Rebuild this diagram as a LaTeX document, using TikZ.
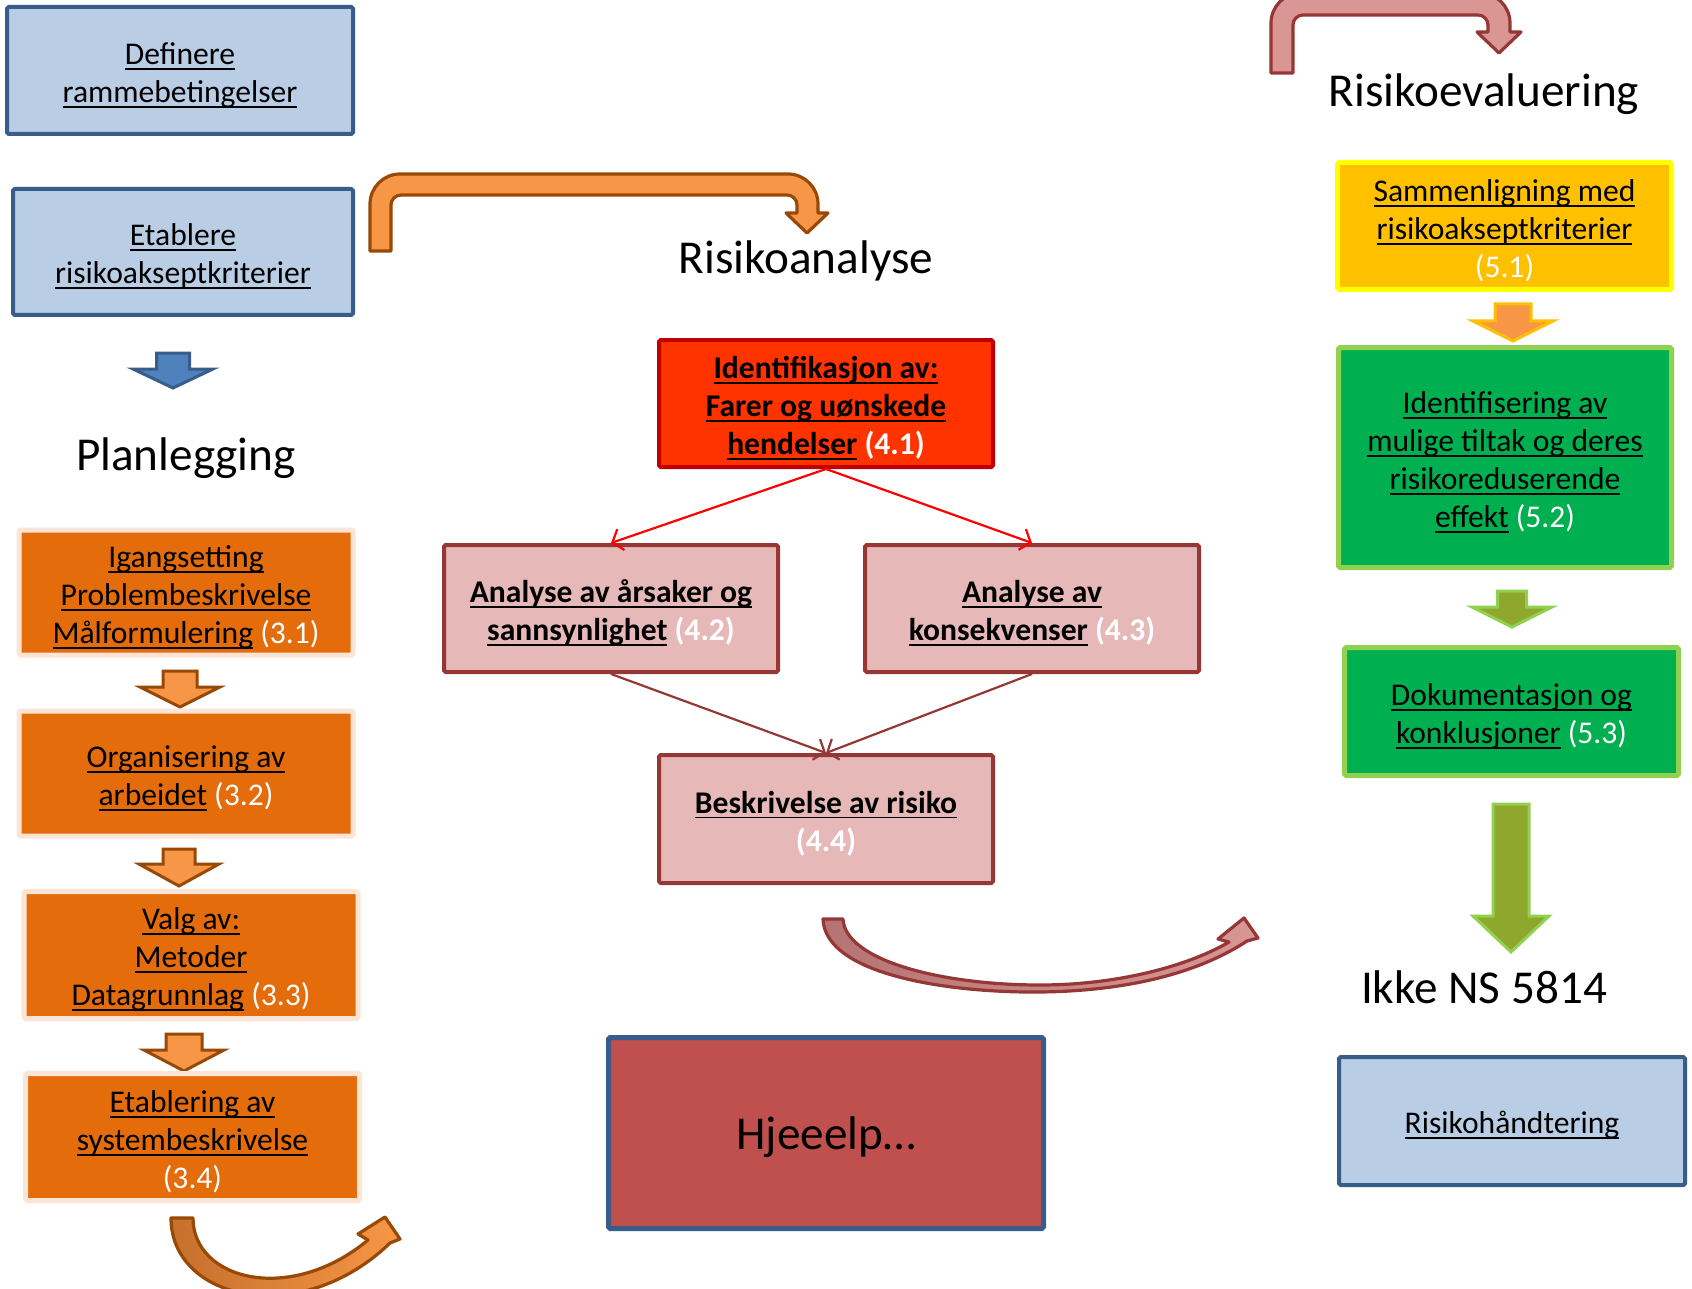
\documentclass[tikz,border=0pt]{standalone}
\usepackage{fontspec}
\setmainfont{Carlito}
\usetikzlibrary{arrows.meta}
\definecolor{bfill}{HTML}{B9CDE5}
\definecolor{bdraw}{HTML}{385D8A}
\definecolor{ofill}{HTML}{E46C0A}
\definecolor{opale}{HTML}{FCE4D6}
\definecolor{oarrow}{HTML}{F79646}
\definecolor{obrown}{HTML}{984807}
\definecolor{rfill}{HTML}{FF3300}
\definecolor{rdraw}{HTML}{C00000}
\definecolor{pfill}{HTML}{E6B9B8}
\definecolor{pdraw}{HTML}{953735}
\definecolor{yfill}{HTML}{FFC000}
\definecolor{ydraw}{HTML}{FFFF00}
\definecolor{gfill}{HTML}{00B050}
\definecolor{gdraw}{HTML}{92D050}
\definecolor{garrow}{HTML}{8EA72C}
\definecolor{hfill}{HTML}{C0504D}
\definecolor{barrow}{HTML}{4F81BD}
\definecolor{rarrowfill}{HTML}{D99694}
\definecolor{rtail}{HTML}{B57473}
\definecolor{otail}{HTML}{C5702C}
\newcommand\boxfont{\fontsize{15.8}{19}\selectfont}
\newcommand\headfont{\fontsize{23.6}{28}\selectfont}
\newcommand\up{\rule{0pt}{15.5pt}}
\newcommand\ul[1]{\leavevmode{\setbox0\hbox{#1}\rlap{\rule[-0.17em]{\wd0}{0.06em}}\box0}}
\newcommand\nr[1]{\textcolor{white}{#1}}
\newcommand\downblock[7]{%
  \draw[#1] ({#2-#4},#3) -- ({#2+#4},#3) -- ({#2+#4},#6) -- ({#2+#5},#6) -- (#2,#7) -- ({#2-#5},#6) -- ({#2-#4},#6) -- cycle;}
\tikzset{
  box/.style={rectangle, inner sep=0pt, align=center, font=\boxfont, text=black, rounded corners=0.8pt},
  bluebox/.style={box, fill=bfill, draw=bdraw, line width=2pt},
  orbox/.style={box, fill=ofill, draw=opale, line width=2.5pt, minimum width=167pt, minimum height=62.5pt},
  redbox/.style={box, fill=rfill, draw=rdraw, line width=2pt, font=\boxfont\bfseries, minimum width=167pt, minimum height=63.5pt},
  pinkbox/.style={box, fill=pfill, draw=pdraw, line width=2pt, font=\boxfont\bfseries, minimum width=167pt, minimum height=63.5pt},
  yelbox/.style={box, fill=yfill, draw=ydraw, line width=2.5pt},
  grbox/.style={box, fill=gfill, draw=gdraw, line width=2.5pt},
  heading/.style={inner sep=0pt, font=\headfont, anchor=base},
  blueblk/.style={fill=barrow, draw=bdraw, line width=1.5pt, line join=miter},
  orblk/.style={fill=oarrow, draw=obrown, line width=1.5pt, line join=miter},
  yblk/.style={fill=oarrow, draw=yfill, line width=1.5pt, line join=miter},
  gblk/.style={fill=garrow, draw=gdraw, line width=1.5pt, line join=miter},
  uturnO/.style={fill=oarrow, draw=obrown, line width=1.6pt, line join=round},
  uturnR/.style={fill=rarrowfill, draw=pdraw, line width=1.6pt, line join=round},
  curveO/.style={left color=otail, right color=oarrow, draw=obrown, line width=1.6pt, line join=round},
  curveR/.style={left color=rtail, right color=rarrowfill, draw=pdraw, line width=1.6pt, line join=round},
  redline/.style={draw=red, line width=1.1pt, -{Straight Barb[length=4.5pt,width=11pt]}},
  darkline/.style={draw=pdraw, line width=1.1pt, -{Straight Barb[length=4.5pt,width=11pt]}},
}
\begin{document}
\begin{tikzpicture}[x=0.5pt,y=-0.5pt]
\clip (0,0) rectangle (1692,1289);
\fill[white] (0,0) rectangle (1692,1289);

% ---------- left column ----------
\node[bluebox, minimum width=173pt, minimum height=63.5pt] (def) at (180,70.5) {\up\ul{Definere}\\\ul{rammebetingelser}};
\node[bluebox, minimum width=170pt, minimum height=63pt] (etab) at (183,252) {\up\ul{Etablere}\\\ul{risikoakseptkriterier}};
\downblock{blueblk}{173}{353}{16.5}{40}{369}{388}
\node[heading] (plan) at (186,470) {Planlegging};

\downblock{orblk}{180}{671}{17}{40}{687}{707}
\downblock{orblk}{179}{849}{16}{40}{864}{886}
\downblock{orblk}{184}{1034}{18}{40}{1050}{1071}
\node[orbox] (p31) at (186,592.5) {\up\ul{Igangsetting}\\\ul{Problembeskrivelse}\\\ul{Målformulering} \nr{(3.1)}};
\node[orbox] (p32) at (186,773.5) {\up\ul{Organisering av}\\\ul{arbeidet} \nr{(3.2)}};
\node[orbox, minimum height=63.5pt] (p33) at (191,955) {\up\ul{Valg av:}\\\ul{Metoder}\\\ul{Datagrunnlag} \nr{(3.3)}};
\node[orbox, minimum height=63.5pt] (p34) at (192.5,1137) {\up\ul{Etablering av}\\\ul{systembeskrivelse}\\\nr{(3.4)}};

\draw[curveO] (171,1218) .. controls (171,1300) and (300,1330) .. (390,1243) -- (400,1239) -- (385,1217) -- (358,1234) -- (368,1240) .. controls (290,1305) and (193,1280) .. (193,1218) -- cycle;

% ---------- middle column ----------
\draw[uturnO] (370,251) -- (370,204) arc[start angle=180,end angle=270,radius=30] -- (788,174) arc[start angle=270,end angle=360,radius=30] -- (818,213) -- (828,213) -- (807,233) -- (786,213) -- (797,213) -- (797,205) arc[start angle=0,end angle=-90,radius=10] -- (401,195) arc[start angle=270,end angle=180,radius=10] -- (391,251) -- cycle;
\node[heading] (ana) at (806,274) {Risikoanalyse};

\node[redbox] (a41) at (826,403.5) {\up\ul{Identifikasjon av:}\\\ul{Farer og uønskede}\\\ul{hendelser} \nr{(4.1)}};
\node[pinkbox] (a42) at (611,608.5) {\up\ul{Analyse av årsaker og}\\\ul{sannsynlighet} \nr{(4.2)}};
\node[pinkbox] (a43) at (1032,608.5) {\up\ul{Analyse av}\\\ul{konsekvenser} \nr{(4.3)}};
\node[pinkbox, minimum height=64pt] (a44) at (826,819) {\up\ul{Beskrivelse av risiko}\\\nr{(4.4)}};
\draw[redline] (a41.south) -- (a42.north);
\draw[redline] (a41.south) -- (a43.north);
\draw[darkline] (a42.south) -- (a44.north);
\draw[darkline] (a43.south) -- (a44.north);

\draw[curveR] (823,919) .. controls (825,975) and (950,993) .. (1040,992) .. controls (1130,991) and (1200,972) .. (1247,941) -- (1258,938) -- (1244,918) -- (1218,939) -- (1229,942) .. controls (1190,965) and (1120,985) .. (1040,985) .. controls (940,985) and (845,960) .. (843,919) -- cycle;

\node[box, fill=hfill, draw=bdraw, line width=2.5pt, minimum width=217.5pt, minimum height=95.5pt] (help) at (826,1133) {};
\node[heading] (helptxt) at (826,1149) {Hjeeelp…};

% ---------- right column ----------
\draw[uturnR] (1271,73) -- (1271,23) arc[start angle=180,end angle=270,radius=30] -- (1480,-7) arc[start angle=270,end angle=360,radius=30] -- (1510,32) -- (1521,32) -- (1499,53) -- (1477,32) -- (1488,32) -- (1488,25) arc[start angle=0,end angle=-90,radius=10] -- (1303,15) arc[start angle=270,end angle=180,radius=10] -- (1293,73) -- cycle;
\node[heading] (eval) at (1484,107) {Risikoevaluering};

\downblock{yblk}{1513}{304}{18}{40}{321}{341}
\downblock{gblk}{1512}{591}{14.5}{40}{607}{627}
\downblock{gblk}{1511}{804}{18}{38}{916}{952}
\node[yelbox, minimum width=167pt, minimum height=63.5pt] (e51) at (1504.5,226) {\up\ul{Sammenligning med}\\\ul{risikoakseptkriterier}\\\nr{(5.1)}};
\node[grbox, minimum width=166.5pt, minimum height=110pt] (e52) at (1505,457.5) {\up\ul{Identifisering av}\\\ul{mulige tiltak og deres}\\\ul{risikoreduserende}\\\ul{effekt} \nr{(5.2)}};
\node[grbox, minimum width=167pt, minimum height=64pt] (e53) at (1511.5,711.5) {\up\ul{Dokumentasjon og}\\\ul{konklusjoner} \nr{(5.3)}};
\node[heading] (ikke) at (1484,1003) {Ikke NS 5814};
\node[bluebox, minimum width=173pt, minimum height=64pt] (hand) at (1512,1121) {\up\ul{Risikohåndtering}};
\end{tikzpicture}
\end{document}
